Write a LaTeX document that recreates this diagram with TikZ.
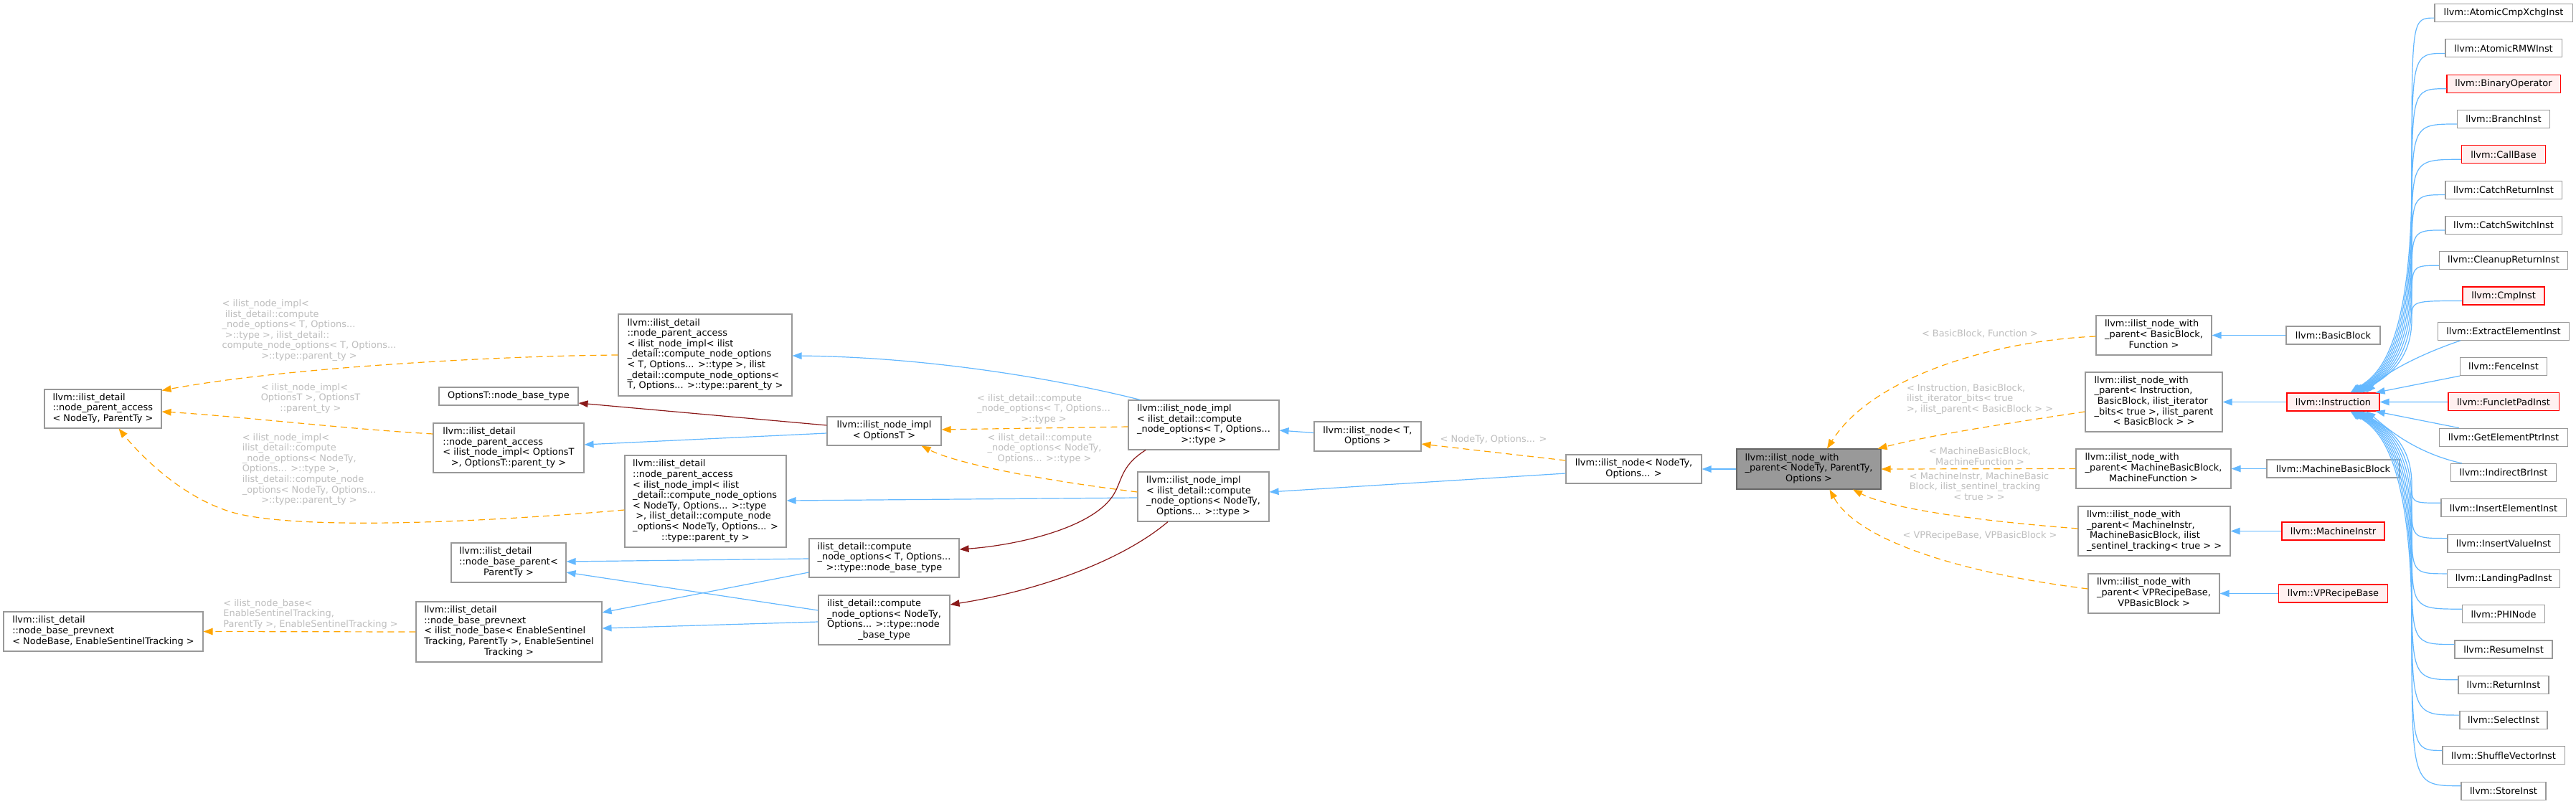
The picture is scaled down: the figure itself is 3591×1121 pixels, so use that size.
\documentclass[tikz,border=0pt]{standalone}
\usepackage{fontspec}
\setmainfont{DejaVu Sans}
\usetikzlibrary{arrows.meta}
\definecolor{edgeblue}{HTML}{63B8FF}
\definecolor{edgeorange}{HTML}{FFA500}
\definecolor{edgered}{HTML}{8B1A1A}
\definecolor{boxgray}{HTML}{999999}
\definecolor{curborder}{HTML}{666666}
\definecolor{lblgray}{HTML}{BEBEBE}
\definecolor{redfill}{HTML}{FFF0F0}
\newcommand\tx[2]{\begin{tabular}{@{}l@{}}#1\multicolumn{1}{@{}c@{}}{#2}\end{tabular}}
\tikzset{
  box/.style={draw=boxgray, fill=white, line width=1.1pt, inner sep=0pt, font=\fontsize{12.9}{14.6}\selectfont},
  redbox/.style={box, draw=red, fill=redfill},
  curbox/.style={box, draw=curborder, fill=boxgray},
  wh/.style 2 args={minimum width=#1pt, minimum height=#2pt},
  inh/.style={draw=edgeblue, line width=1.2pt, -{Triangle[length=13pt,width=9.5pt]}},
  tmpl/.style={draw=edgeorange, line width=1.2pt, dash pattern=on 9pt off 6pt, -{Triangle[length=13pt,width=9.5pt]}},
  use/.style={draw=edgered, line width=1.2pt, -{Triangle[length=13pt,width=9.5pt]}},
  lbl/.style={text=lblgray, inner sep=0pt, font=\fontsize{12.9}{14.6}\selectfont}
}
\begin{document}
\begin{tikzpicture}[x=1pt,y=-1pt]
\useasboundingbox (0,0) rectangle (3591,1121);
\fill[white] (0,0) rectangle (3591,1121);

% ---------- nodes, left part
\node[box, wh={163}{54}] (npa) at (143.5,570) {\tx{llvm::ilist\_detail\\::node\_parent\_access\\}{< NodeTy, ParentTy >}};
\node[box, wh={278}{55}] (pn2) at (144,880.5) {\tx{llvm::ilist\_detail\\::node\_base\_prevnext\\}{< NodeBase, EnableSentinelTracking >}};

\node[box, wh={242}{114}] (paT) at (983,495) {\tx{llvm::ilist\_detail\\::node\_parent\_access\\< ilist\_node\_impl< ilist\\\_detail::compute\_node\_options\\< T, Options... >::type >, ilist\\\_detail::compute\_node\_options<\\}{ T, Options... >::type::parent\_ty >}};
\node[box, wh={194}{25}] (optb) at (709,552.5) {OptionsT::node\_base\_type};
\node[box, wh={210}{69}] (paO) at (709,624.5) {\tx{llvm::ilist\_detail\\::node\_parent\_access\\< ilist\_node\_impl< OptionsT\\}{>, OptionsT::parent\_ty >}};
\node[box, wh={225}{128}] (paN) at (983.5,699) {\tx{llvm::ilist\_detail\\::node\_parent\_access\\< ilist\_node\_impl< ilist\\\_detail::compute\_node\_options\\< NodeTy, Options... >::type\\\ >, ilist\_detail::compute\_node\\\_options< NodeTy, Options... >\\}{::type::parent\_ty >}};
\node[box, wh={160}{55}] (bpar) at (709,784.5) {\tx{llvm::ilist\_detail\\::node\_base\_parent<\\}{ParentTy >}};
\node[box, wh={259}{84}] (pn1) at (709.5,881) {\tx{llvm::ilist\_detail\\::node\_base\_prevnext\\< ilist\_node\_base< EnableSentinel\\Tracking, ParentTy >, EnableSentinel\\}{Tracking >}};

\node[box, wh={159}{40}] (implO) at (1232.5,601) {\tx{llvm::ilist\_node\_impl\\}{< OptionsT >}};
\node[box, wh={209}{54}] (compT) at (1232.5,778) {\tx{ilist\_detail::compute\\\_node\_options< T, Options...\\}{>::type::node\_base\_type}};
\node[box, wh={183}{69}] (compN) at (1232.5,864.5) {\tx{ilist\_detail::compute\\\_node\_options< NodeTy,\\Options... >::type::node\\}{\_base\_type}};

\node[box, wh={210}{69}] (implT) at (1678,592.5) {\tx{llvm::ilist\_node\_impl\\< ilist\_detail::compute\\\_node\_options< T, Options...\\}{>::type >}};
\node[box, wh={183}{69}] (implN) at (1677.5,692.5) {\tx{llvm::ilist\_node\_impl\\< ilist\_detail::compute\\\_node\_options< NodeTy,\\}{Options... >::type >}};

\node[box, wh={149}{41}] (nodeT) at (1906.5,608.5) {\tx{llvm::ilist\_node< T,\\}{Options >}};
\node[box, wh={189}{40}] (nodeN) at (2277.5,654) {\tx{llvm::ilist\_node< NodeTy,\\}{Options... >}};

\node[curbox, wh={201}{56}] (cur) at (2521.5,654) {\tx{llvm::ilist\_node\_with\\\_parent< NodeTy, ParentTy,\\}{Options >}};

\node[box, wh={161}{55}] (wpBB) at (3002.5,467.5) {\tx{llvm::ilist\_node\_with\\\_parent< BasicBlock,\\}{Function >}};
\node[box, wh={191}{83}] (wpI) at (3002.5,560.5) {\tx{llvm::ilist\_node\_with\\\_parent< Instruction,\\\ BasicBlock, ilist\_iterator\\\_bits< true >, ilist\_parent\\}{< BasicBlock > >}};
\node[box, wh={216}{55}] (wpMBB) at (3002,653.5) {\tx{llvm::ilist\_node\_with\\\_parent< MachineBasicBlock,\\}{MachineFunction >}};
\node[box, wh={212}{69}] (wpMI) at (3003,740.5) {\tx{llvm::ilist\_node\_with\\\_parent< MachineInstr,\\\ MachineBasicBlock, ilist\\}{\_sentinel\_tracking< true > >}};
\node[box, wh={183}{55}] (wpVP) at (3002.5,827.5) {\tx{llvm::ilist\_node\_with\\\_parent< VPRecipeBase,\\}{VPBasicBlock >}};

\node[box, wh={131}{25}] (BB) at (3252.5,467.5) {llvm::BasicBlock};
\node[redbox, wh={129}{25}] (I) at (3252.5,560.5) {llvm::Instruction};
\node[box, wh={185}{25}] (MBB) at (3252.5,653.5) {llvm::MachineBasicBlock};
\node[redbox, wh={143}{25}] (MI) at (3252.5,740.5) {llvm::MachineInstr};
\node[redbox, wh={152}{25}] (VP) at (3252.5,827.5) {llvm::VPRecipeBase};

% right column
\foreach \k/\nm/\w/\dc/\fc in {
  0/AtomicCmpXchgInst/192/boxgray/white, 1/AtomicRMWInst/162/boxgray/white,
  2/BinaryOperator/158/red/redfill, 3/BranchInst/129/boxgray/white,
  4/CallBase/117/red/redfill, 5/CatchReturnInst/162/boxgray/white,
  6/CatchSwitchInst/162/boxgray/white, 7/CleanupReturnInst/179/boxgray/white,
  8/CmpInst/114/red/redfill, 9/ExtractElementInst/183/boxgray/white,
  10/FenceInst/121/boxgray/white, 11/FuncletPadInst/154/red/redfill,
  12/GetElementPtrInst/179/boxgray/white, 13/IndirectBrInst/147/boxgray/white,
  14/InsertElementInst/174/boxgray/white, 15/InsertValueInst/156/boxgray/white,
  16/LandingPadInst/157/boxgray/white, 17/PHINode/115/boxgray/white,
  18/ResumeInst/136/boxgray/white, 19/ReturnInst/126/boxgray/white,
  20/SelectInst/122/boxgray/white, 21/ShuffleVectorInst/170/boxgray/white,
  22/StoreInst/118/boxgray/white}
  {\node[box, draw=\dc, fill=\fc, wh={\w}{25}] (r\k) at (3490,{18.1+49.3*\k}) {llvm::\nm};}

% ---------- labels
\node[lbl] (l1) at (431,461) {\tx{< ilist\_node\_impl<\\\ ilist\_detail::compute\\\_node\_options< T, Options...\\\ >::type >, ilist\_detail::\\compute\_node\_options< T, Options...\\}{ >::type::parent\_ty >}};
\node[lbl] (l2) at (433,556) {\tx{< ilist\_node\_impl<\\OptionsT >, OptionsT\\}{::parent\_ty >}};
\node[lbl] (l3) at (431,655) {\tx{< ilist\_node\_impl<\\ilist\_detail::compute\\\_node\_options< NodeTy,\\Options... >::type >,\\ilist\_detail::compute\_node\\\_options< NodeTy, Options...\\}{ >::type::parent\_ty >}};
\node[lbl] (l4) at (433,857) {\tx{< ilist\_node\_base<\\EnableSentinelTracking,\\}{ParentTy >, EnableSentinelTracking >}};
\node[lbl] (l5) at (1455,571) {\tx{< ilist\_detail::compute\\\_node\_options< T, Options...\\}{ >::type >}};
\node[lbl] (l6) at (1456,626) {\tx{< ilist\_detail::compute\\\_node\_options< NodeTy,\\}{Options... >::type >}};
\node[lbl] (l7) at (2082,613) {< NodeTy, Options... >};
\node[lbl] (l8) at (2760,465) {< BasicBlock, Function >};
\node[lbl] (l9) at (2760,557) {\tx{< Instruction, BasicBlock,\\ilist\_iterator\_bits< true\\}{>, ilist\_parent< BasicBlock > >}};
\node[lbl] (l10) at (2760,638) {\tx{< MachineBasicBlock,\\}{MachineFunction >}};
\node[lbl] (l11) at (2759,680) {\tx{< MachineInstr, MachineBasic\\Block, ilist\_sentinel\_tracking\\}{< true > >}};
\node[lbl] (l12) at (2760,747) {< VPRecipeBase, VPBasicBlock >};

% ---------- edges, left part
\draw[tmpl] (paT.west) .. controls (700,496) and (400,512) .. ([yshift=-2pt]npa.north east);
\draw[tmpl] ([yshift=19.5pt]paO.west) .. controls (480,598) and (330,580) .. ([yshift=-4pt]npa.east);
\draw[tmpl] ([yshift=-12pt]paN.west) .. controls (650,730) and (420,738) .. (330,716) .. controls (260,698) and (200,640) .. ([xshift=22pt]npa.south);
\draw[tmpl] (pn1.west) -- (pn2.east);

\draw[use] ([yshift=8pt]implO.west) -- ([yshift=-9.5pt]optb.east);
\draw[inh] ([yshift=-3pt]implO.west) -- ([yshift=4.5pt]paO.east);
\draw[inh] ([xshift=17pt]implT.north west) .. controls (1480,530) and (1300,498) .. ([yshift=-1pt]paT.east);
\draw[tmpl] ([yshift=-2.5pt]implT.west) -- ([yshift=2pt]implO.east);
\draw[tmpl] ([yshift=6.5pt]implN.west) .. controls (1440,668) and (1330,645) .. ([xshift=52pt]implO.south);
\draw[inh] ([yshift=-1.5pt]implN.west) -- ([yshift=1pt]paN.east);
\draw[use] ([xshift=-81pt]implT.south) .. controls (1565,648) and (1565,665) .. (1555,685) .. controls (1530,735) and (1420,760) .. ([yshift=12pt]compT.east);
\draw[use] ([xshift=-49.5pt]implN.south) .. controls (1560,785) and (1440,825) .. ([yshift=21.5pt]compN.east);
\draw[inh] ([yshift=-1pt]compT.west) -- ([yshift=1.5pt]bpar.east);
\draw[inh] ([yshift=13.5pt]compN.west) -- ([yshift=-13.5pt]bpar.east);
\draw[inh] ([yshift=-20pt]compT.west) -- ([yshift=27pt]pn1.east);
\draw[inh] ([yshift=-2.5pt]compN.west) -- ([yshift=5pt]pn1.east);

\draw[inh] ([yshift=5pt]nodeT.west) -- ([yshift=-7.5pt]implT.east);
\draw[tmpl] ([yshift=12pt]nodeN.west) -- ([yshift=-10.5pt]nodeT.east);
\draw[inh] ([yshift=-6pt]nodeN.west) -- ([yshift=6.5pt]implN.east);
\draw[inh] (cur.west) -- (nodeN.east);

\draw[tmpl] ([yshift=-1.5pt]wpBB.west) .. controls (2780,475) and (2610,525) .. ([xshift=25.5pt]cur.north);
\draw[tmpl] ([yshift=-13.5pt]wpI.west) .. controls (2800,590) and (2700,605) .. ([xshift=-5pt]cur.north east);
\draw[tmpl] (wpMBB.west) -- (cur.east);
\draw[tmpl] ([yshift=3.5pt]wpMI.west) .. controls (2780,728) and (2640,712) .. ([xshift=61.5pt]cur.south);
\draw[tmpl] ([yshift=6.5pt]wpVP.west) .. controls (2740,800) and (2590,755) .. ([xshift=29pt]cur.south);

\draw[inh] (BB.west) -- (wpBB.east);
\draw[inh] (I.west) -- (wpI.east);
\draw[inh] (MBB.west) -- (wpMBB.east);
\draw[inh] (MI.west) -- (wpMI.east);
\draw[inh] (VP.west) -- (wpVP.east);

% ---------- edges, right column to Instruction
\foreach \k/\ex in {0/24,1/26,2/28,3/30,4/32,5/34,6/36,7/38,8/40} {
  \pgfmathsetmacro\ys{18.1+49.3*\k+7}
  \pgfmathsetmacro\ym{(\ys+470)/2}
  \pgfmathsetmacro\cx{3252.5+\ex+28}
  \draw[inh] ([yshift=-7pt]r\k.west) .. controls (3362,\ys) and (3362,\ys) .. (3362,\ym) .. controls (3362,508) and (\cx,528) .. ([xshift=\ex pt]I.north);
}
\foreach \k/\ex in {14/40,15/38,16/36,17/34,18/32,19/30,20/28,21/26,22/24} {
  \pgfmathsetmacro\ys{18.1+49.3*\k-7}
  \pgfmathsetmacro\ym{(\ys+650)/2}
  \pgfmathsetmacro\cx{3252.5+\ex+28}
  \draw[inh] ([yshift=7pt]r\k.west) .. controls (3362,\ys) and (3362,\ys) .. (3362,\ym) .. controls (3362,613) and (\cx,593) .. ([xshift=\ex pt]I.south);
}
\draw[inh] ([xshift=32pt]r9.south west) .. controls (3385,490) and (3330,515) .. ([xshift=46pt]I.north);
\draw[inh] (r10.south west) -- ([xshift=-6pt]I.north east);
\draw[inh] (r11.west) -- (I.east);
\draw[inh] ([xshift=28pt]r12.north west) -- ([xshift=-6pt]I.south east);
\draw[inh] ([xshift=16pt]r13.north west) .. controls (3360,630) and (3320,590) .. ([xshift=46pt]I.south);
\end{tikzpicture}
\end{document}
